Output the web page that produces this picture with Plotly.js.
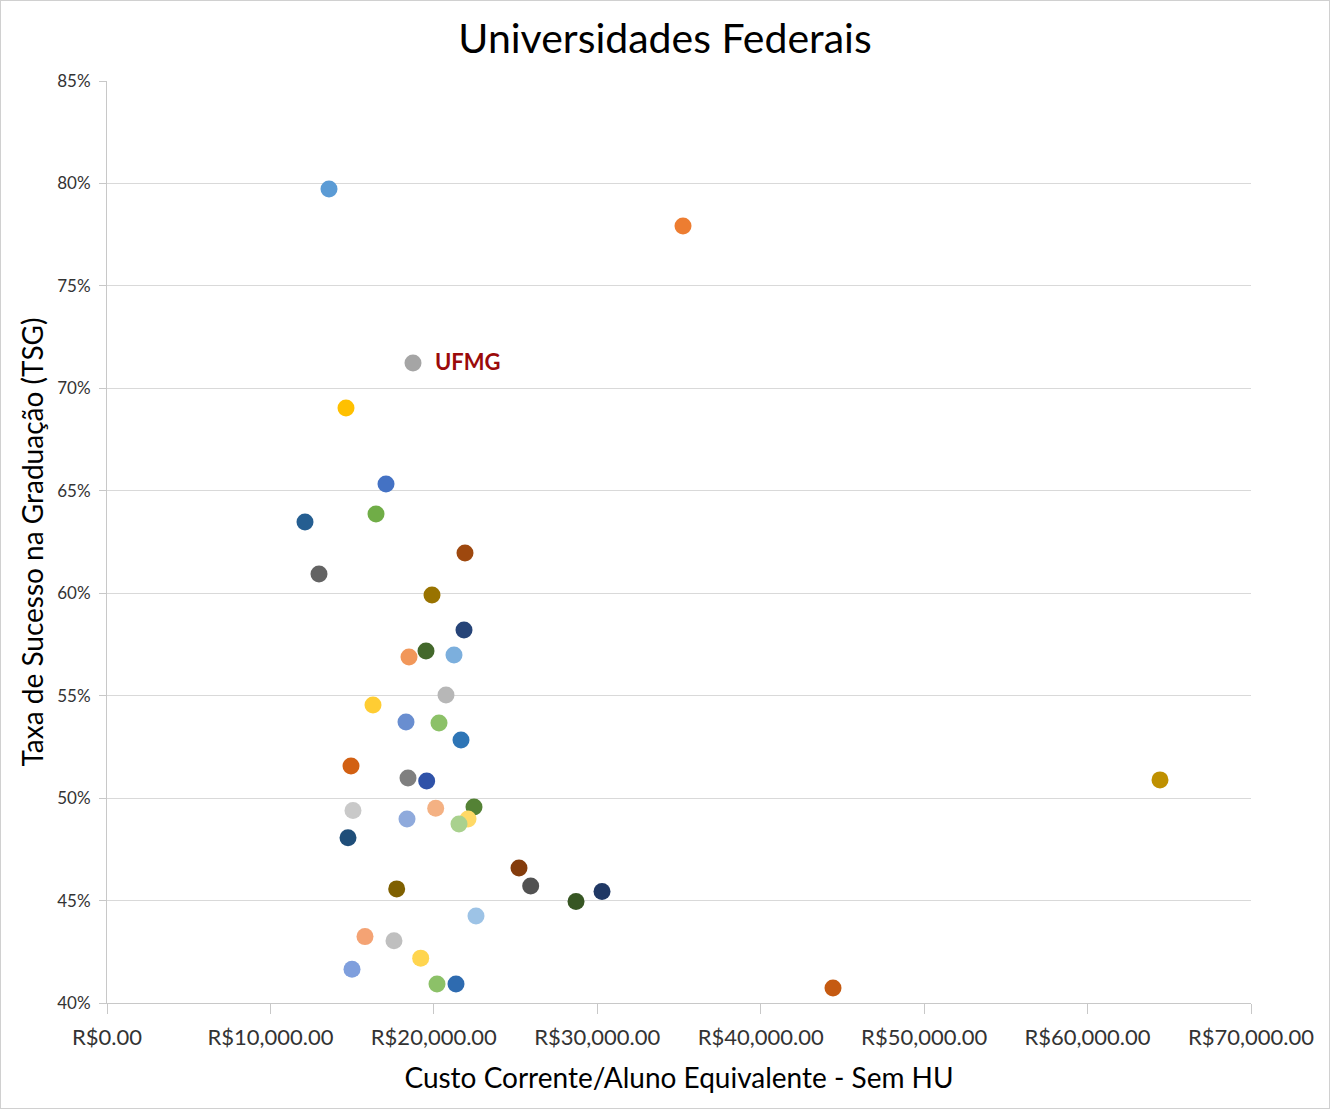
<!DOCTYPE html>
<html>
<head>
<meta charset="utf-8">
<script src="https://cdn.plot.ly/plotly-3.0.1.min.js"></script>
<style>
html,body{margin:0;padding:0;background:#fff;}
#chart{width:1328px;height:1107px;border:1px solid #d0d0d0;}
</style>
</head>
<body>
<div id="chart"></div>
<script>
// Custo corrente por aluno equivalente (R$) - sem HU
const custo = [13584, 35245, 18724, 14624, 17072, 12115, 16460, 21905, 12972, 19886,
  21844, 19519, 18479, 21232, 20743, 16276, 18295, 20315, 21660, 14930,
  18418, 19560, 64431, 15052, 20112, 22456, 18357, 22089, 21538, 14746,
  25210, 25925, 17726, 28698, 30289, 22578, 15787, 17560, 19195, 14991,
  20192, 21354, 44423];
// Taxa de Sucesso na Graduação (fração)
const tsg = [0.7973, 0.7792, 0.7124, 0.6904, 0.6533, 0.6348, 0.6387, 0.6196, 0.6094, 0.5991,
  0.5821, 0.5718, 0.5689, 0.5699, 0.5503, 0.5455, 0.5372, 0.5367, 0.5284, 0.5157,
  0.5098, 0.5084, 0.5089, 0.4939, 0.4951, 0.4957, 0.4898, 0.4898, 0.4874, 0.4806,
  0.4659, 0.4571, 0.4557, 0.4495, 0.4544, 0.4425, 0.4324, 0.4304, 0.4219, 0.4165,
  0.4093, 0.4093, 0.4073];
const cores = ['#5B9BD5', '#ED7D31', '#A5A5A5', '#FFC000', '#4472C4', '#255E91', '#70AD47', '#9E480E', '#636363', '#997300',
  '#264478', '#43682B', '#F1975A', '#7CAFDD', '#B7B7B7', '#FFCD33', '#698ED0', '#8CC168', '#2E75B6', '#D26012',
  '#7F7F7F', '#2F52A8', '#BF9000', '#C9C9C9', '#F4B183', '#548235', '#8FAADC', '#FFD966', '#A9D18E', '#1F4E79',
  '#843C0C', '#525252', '#7F6000', '#375623', '#203864', '#9DC3E6', '#F4A374', '#BFBFBF', '#FFD54F', '#7F9FDD',
  '#8CC168', '#2E6BB0', '#C55A11'];
const destaque = 'UFMG';
const idxDestaque = 2;
const xTicks = [0, 10000, 20000, 30000, 40000, 50000, 60000, 70000];
const xTickLabels = ['R$0.00', 'R$10,000.00', 'R$20,000.00', 'R$30,000.00', 'R$40,000.00', 'R$50,000.00', 'R$60,000.00', 'R$70,000.00'];
const yTicks = [0.40, 0.45, 0.50, 0.55, 0.60, 0.65, 0.70, 0.75, 0.80, 0.85];
const yTickLabels = ['40%', '45%', '50%', '55%', '60%', '65%', '70%', '75%', '80%', '85%'];

const font = 'Lato, "Open Sans", sans-serif';

const trace = {
  type: 'scatter', mode: 'markers',
  x: custo, y: tsg,
  marker: {size: 17, color: cores, line: {width: 0}},
  hoverinfo: 'x+y'
};

const layout = {
  width: 1328, height: 1107,
  margin: {l: 106, r: 78, t: 80, b: 105},
  paper_bgcolor: '#fff', plot_bgcolor: '#fff',
  showlegend: false,
  font: {family: font, color: '#333'},
  title: {text: 'Universidades Federais', font: {family: font, size: 41, color: '#000'}, x: 0.5, xanchor: 'center', y: 0.966, yanchor: 'middle'},
  xaxis: {
    range: [0, 70000], tickmode: 'array', tickvals: xTicks, ticktext: xTickLabels,
    showgrid: false, zeroline: false,
    showline: true, linecolor: '#c8c8c8', linewidth: 1,
    ticks: 'outside', ticklen: 10, tickcolor: '#c8c8c8', ticklabelstandoff: 5,
    tickfont: {family: font, size: 22, color: '#333'},
    title: {text: 'Custo Corrente/Aluno Equivalente - Sem HU', font: {family: font, size: 28, color: '#000'}, standoff: 18}
  },
  yaxis: {
    range: [0.40, 0.85], tickmode: 'array', tickvals: yTicks, ticktext: yTickLabels,
    showgrid: true, gridcolor: '#d9d9d9', gridwidth: 1, zeroline: false,
    showline: true, linecolor: '#c8c8c8', linewidth: 1,
    ticks: 'outside', ticklen: 7, tickcolor: '#c8c8c8', ticklabelstandoff: 5,
    tickfont: {family: font, size: 17, color: '#333'},
    title: {text: 'Taxa de Sucesso na Graduação (TSG)', font: {family: font, size: 28, color: '#000'}, standoff: 5}
  },
  annotations: [{
    x: custo[idxDestaque], y: tsg[idxDestaque], xref: 'x', yref: 'y',
    text: '<b>' + destaque + '</b>', showarrow: false,
    xanchor: 'left', yanchor: 'middle', xshift: 20, yshift: 1,
    font: {family: font, size: 22, color: '#9B0A0A'}
  }]
};

Plotly.newPlot('chart', [trace], layout, {displayModeBar: false, staticPlot: true});
</script>
</body>
</html>
